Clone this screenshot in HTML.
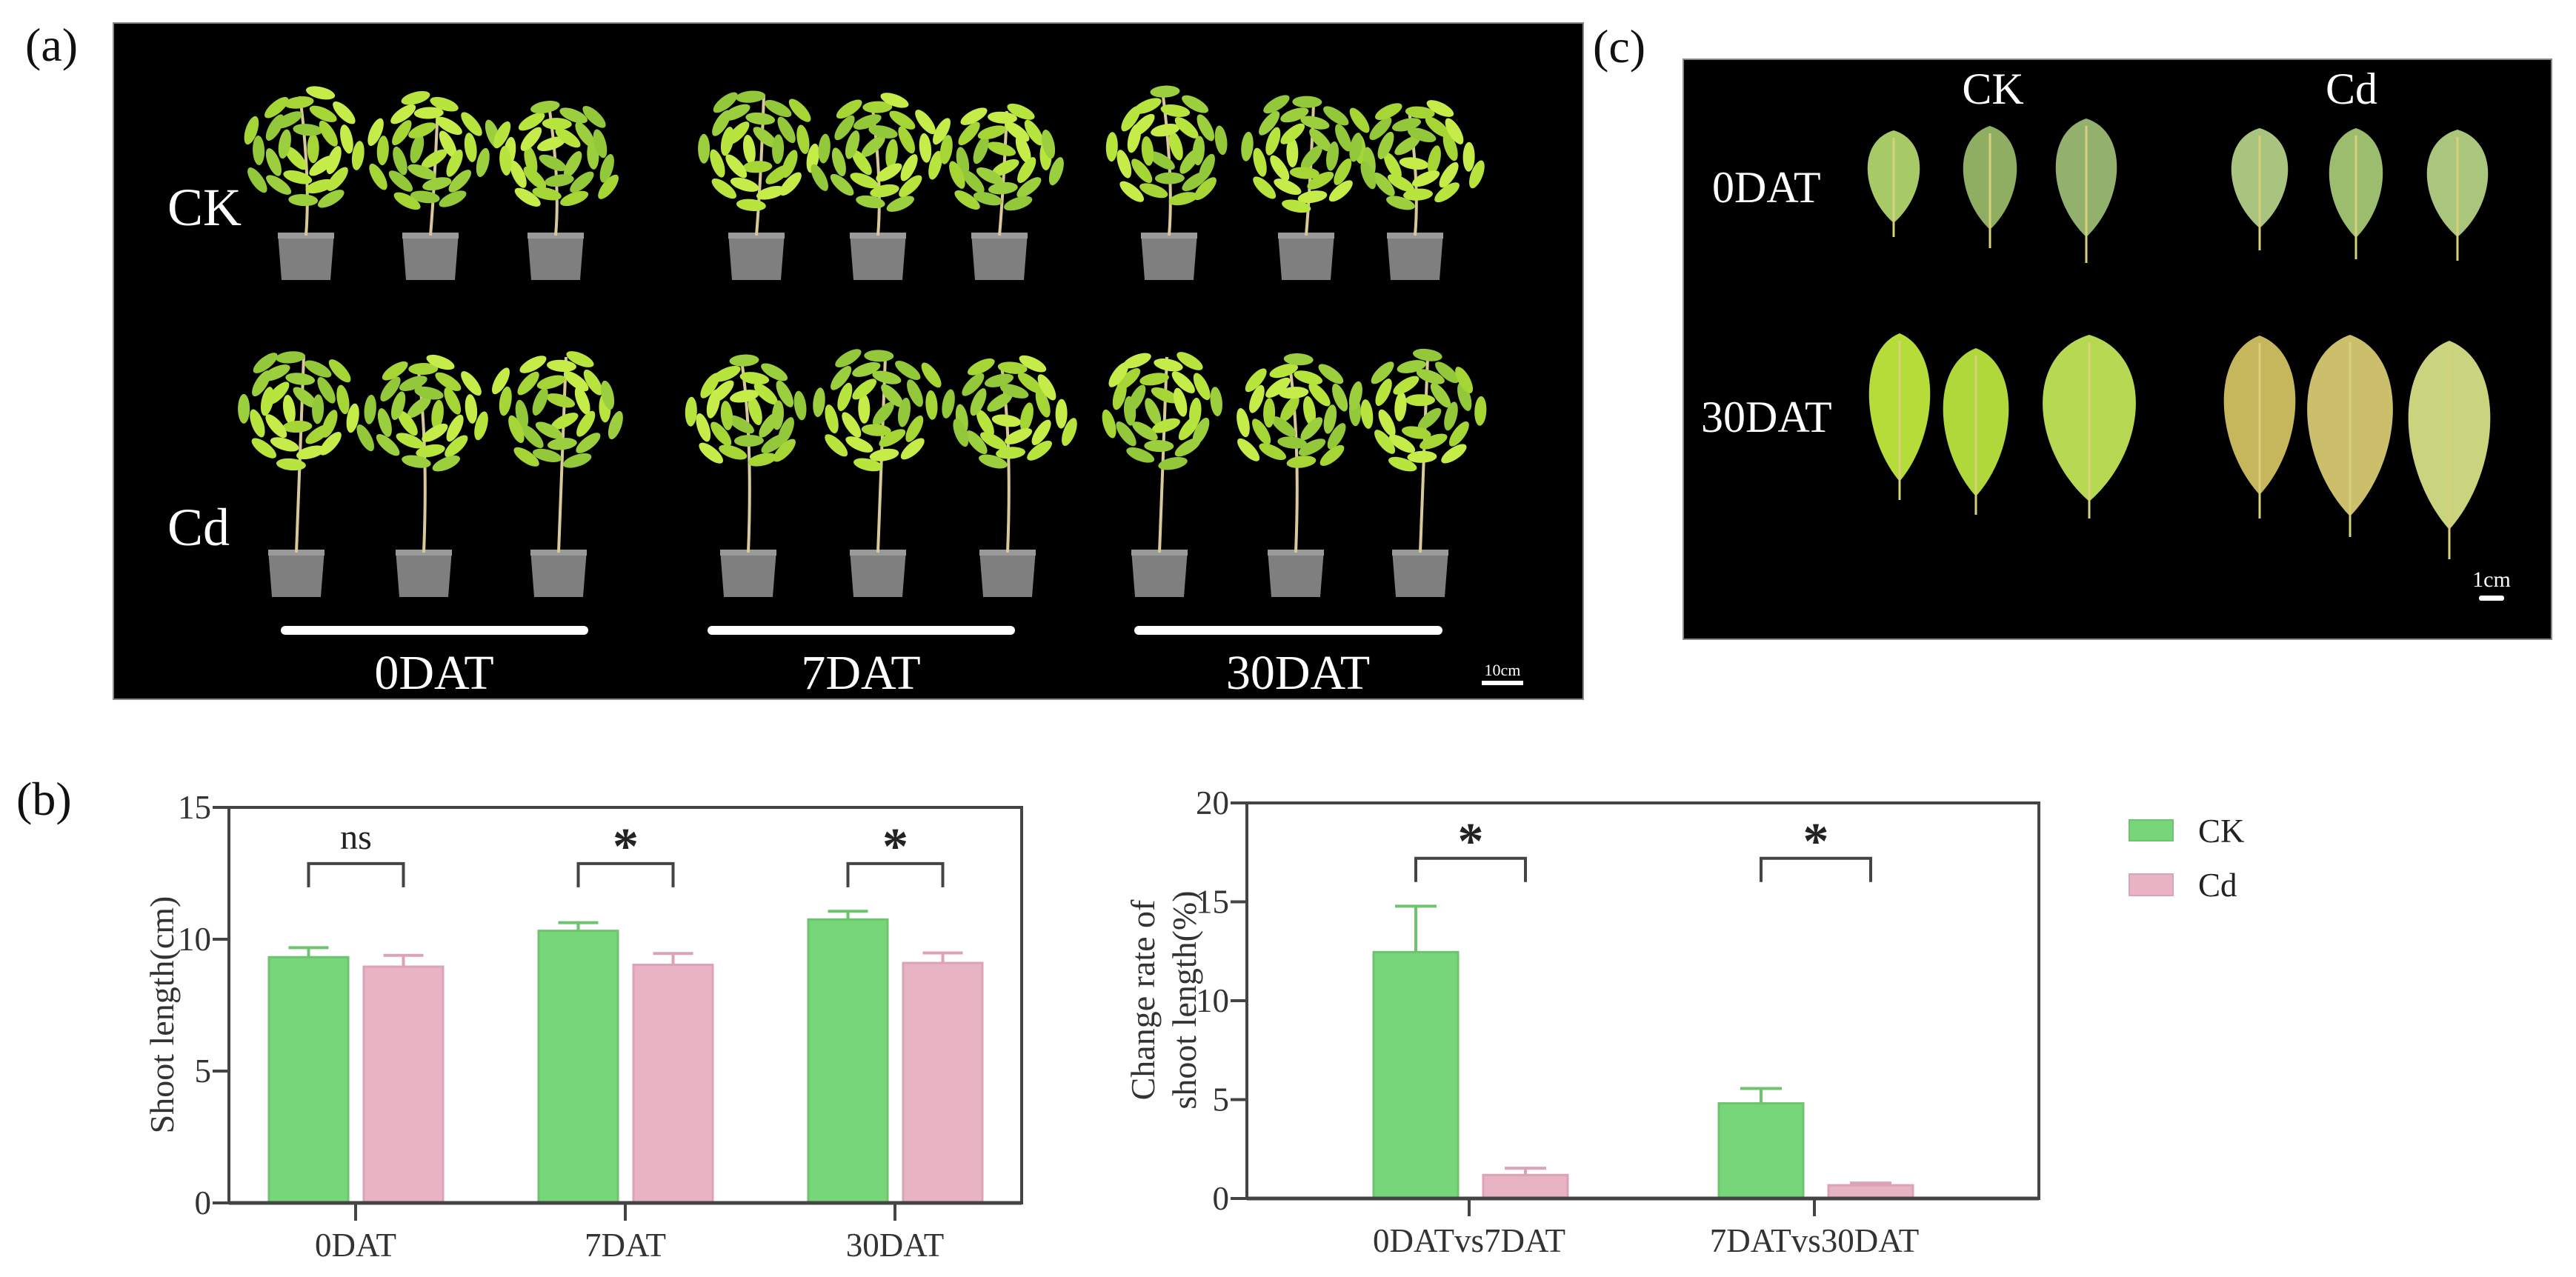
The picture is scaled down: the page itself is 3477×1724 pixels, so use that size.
<!DOCTYPE html>
<html><head><meta charset="utf-8">
<style>
html,body{margin:0;padding:0;background:#fff;}
svg{display:block;font-family:"Liberation Serif","DejaVu Serif",serif;}
svg text{font-family:"Liberation Serif","DejaVu Serif",serif;}
</style></head>
<body>
<svg id="fig" width="3477" height="1724" viewBox="0 0 3477 1724" xmlns="http://www.w3.org/2000/svg" font-family="Liberation Serif, DejaVu Serif, serif">
  <rect x="0" y="0" width="3477" height="1724" fill="#fff"/>
  <text x="34" y="82" font-size="64" fill="#111">(a)</text>
  <text x="22" y="1100" font-size="64" fill="#111">(b)</text>
  <text x="2150" y="84" font-size="64" fill="#111">(c)</text>

  <g id="panelA">
    <rect x="153" y="31" width="1984" height="913" fill="#000" stroke="#888" stroke-width="2"/>
    <g id="plants"></g>
    <text x="226" y="304" font-size="72" fill="#fff">CK</text>
    <text x="226" y="736" font-size="72" fill="#fff">Cd</text>
    <rect x="379" y="845" width="415" height="12" rx="6" fill="#fff"/>
    <rect x="955" y="845" width="415" height="12" rx="6" fill="#fff"/>
    <rect x="1531" y="845" width="416" height="12" rx="6" fill="#fff"/>
    <text x="586" y="930" font-size="66" fill="#fff" text-anchor="middle">0DAT</text>
    <text x="1162" y="930" font-size="66" fill="#fff" text-anchor="middle">7DAT</text>
    <text x="1752" y="930" font-size="66" fill="#fff" text-anchor="middle">30DAT</text>
    <text x="2028" y="912" font-size="22" fill="#fff" text-anchor="middle">10cm</text>
    <rect x="2000" y="919" width="56" height="6" fill="#fff"/>
  </g>

  <g id="panelC">
    <rect x="2272" y="80" width="1172" height="783" fill="#000" stroke="#888" stroke-width="2"/>
    <g id="leaves"></g>
    <text x="2690" y="140" font-size="60" fill="#fff" text-anchor="middle">CK</text>
    <text x="3174" y="140" font-size="60" fill="#fff" text-anchor="middle">Cd</text>
    <text x="2311" y="273" font-size="60" fill="#fff">0DAT</text>
    <text x="2296" y="583" font-size="60" fill="#fff">30DAT</text>
    <text x="3363" y="792" font-size="30" fill="#fff" text-anchor="middle">1cm</text>
    <rect x="3346" y="804" width="34" height="7" rx="3" fill="#fff"/>
  </g>

  <g id="chart1"></g>
  <g id="chart2"></g>

  <g>
    <rect x="2874" y="1107" width="59" height="28" fill="#78d67a" stroke="#6cc46e" stroke-width="2"/>
    <text x="2967" y="1137" font-size="45" fill="#222">CK</text>
    <rect x="2874" y="1180" width="59" height="29" fill="#e8b3c3" stroke="#dca2b6" stroke-width="2"/>
    <text x="2967" y="1210" font-size="45" fill="#222">Cd</text>
  </g>
</svg>
<script>
const cats1 = ['0DAT', '7DAT', '30DAT'];
const ck1 = [9.32, 10.32, 10.75];
const ckErr1 = [0.36, 0.31, 0.31];
const cd1 = [8.96, 9.03, 9.10];
const cdErr1 = [0.43, 0.43, 0.38];
const sig1 = ['ns', '*', '*'];
const ticks1 = [0, 5, 10, 15];

const cats2 = ['0DATvs7DAT', '7DATvs30DAT'];
const ck2 = [12.46, 4.81];
const ckErr2 = [2.32, 0.75];
const cd2 = [1.19, 0.67];
const cdErr2 = [0.34, 0.11];
const sig2 = ['*', '*'];
const ticks2 = [0, 5, 10, 15, 20];

const NS = 'http://www.w3.org/2000/svg';
const FONT = 'Liberation Serif, DejaVu Serif, serif';
function mk(tag, attrs, parent) {
  const e = document.createElementNS(NS, tag);
  for (const k in attrs) e.setAttribute(k, attrs[k]);
  if (tag === 'text') e.setAttribute('font-family', FONT);
  if (parent) parent.appendChild(e);
  return e;
}

function drawChart(g, cfg) {
  const {x0, x1, yB, yT, max, cats, ck, ckE, cd, cdE, sig, ticks, first, spacing, barW, ckOff, cdOff, brTop, brLeg, capW} = cfg;
  const y = v => yB - (v / max) * (yB - yT);
  const cx = i => x0 + first + i * spacing;
  const fr = mk('rect', {x: x0, y: yT, width: x1 - x0, height: yB - yT, fill: 'none', stroke: '#444', 'stroke-width': 4}, g);
  
  
  ticks.forEach(t => {
    const tl = mk('line', {x1: x0 - 22, x2: x0, y1: y(t), y2: y(t), stroke: '#444', 'stroke-width': 4}, g);
    
    
    const tx = mk('text', {x: x0 - 24, y: y(t) + 15, 'font-size': 45, fill: '#333', 'text-anchor': 'end'}, g);
    tx.textContent = t;
    
    
  });
  cats.forEach((c, i) => {
    const c0 = cx(i);
    const b1 = mk('rect', {x: c0 + ckOff, y: y(ck[i]), width: barW, height: yB - y(ck[i]), fill: '#78d67a', stroke: '#6cc46e', 'stroke-width': 3}, g);
    
    
    const b2 = mk('rect', {x: c0 + cdOff, y: y(cd[i]), width: barW, height: yB - y(cd[i]), fill: '#e8b3c3', stroke: '#dca2b6', 'stroke-width': 3}, g);
    
    
    [[c0 + ckOff + barW / 2, ck[i], ckE[i], '#6cc46e'], [c0 + cdOff + barW / 2, cd[i], cdE[i], '#dca2b6']].forEach(([ex, v, e, col]) => {
      const el = mk('path', {d: `M${ex},${y(v)}V${y(v + e)}M${ex - capW / 2},${y(v + e)}H${ex + capW / 2}`, stroke: col, 'stroke-width': 4, fill: 'none'}, g);
      
      
    });
    const xt = mk('line', {x1: c0, x2: c0, y1: yB, y2: yB + 24, stroke: '#444', 'stroke-width': 4}, g);
    
    
    const xl = mk('text', {x: c0, y: yB + 72, 'font-size': 45, fill: '#333', 'text-anchor': 'middle'}, g);
    xl.textContent = c;
    
    
    const bl = c0 + ckOff + barW / 2, br = c0 + cdOff + barW / 2;
    const bk = mk('path', {d: `M${bl},${y(brLeg)}V${y(brTop)}H${br}V${y(brLeg)}`, stroke: '#444', 'stroke-width': 4, fill: 'none'}, g);
    
    
    const st = mk('text', {x: (bl + br) / 2, y: y(brTop) - (sig[i] === '*' ? 0 : 20), 'font-size': sig[i] === '*' ? 70 : 48, 'font-weight': sig[i] === '*' ? 'bold' : 'normal', fill: '#222', 'text-anchor': 'middle'}, g);
    st.textContent = sig[i];
    
    
  });
  const ax = mk('line', {x1: x0, x2: x1, y1: yB, y2: yB, stroke: '#444', 'stroke-width': 5}, g);
  
  
}

drawChart(document.getElementById('chart1'), {
  x0: 309, x1: 1379, yB: 1624, yT: 1090, max: 15, cats: cats1, ck: ck1, ckE: ckErr1, cd: cd1, cdE: cdErr1, sig: sig1, ticks: ticks1,
  first: 171, spacing: 364, barW: 107, ckOff: -117, cdOff: 11, brTop: 12.87, brLeg: 11.97, capW: 54
});
drawChart(document.getElementById('chart2'), {
  x0: 1683, x1: 2752, yB: 1618, yT: 1084, max: 20, cats: cats2, ck: ck2, ckE: ckErr2, cd: cd2, cdE: cdErr2, sig: sig2, ticks: ticks2,
  first: 300, spacing: 466, barW: 114, ckOff: -129, cdOff: 19, brTop: 17.2, brLeg: 16.0, capW: 56
});

(function () {
  const g1 = document.getElementById('chart1');
  const t1 = mk('text', {x: 0, y: 0, 'font-size': 46, fill: '#333', 'text-anchor': 'middle', transform: 'translate(234,1370) rotate(-90)'}, g1);
  t1.textContent = 'Shoot length(cm)';
  
  
  const g2 = document.getElementById('chart2');
  const t2 = mk('text', {x: 0, y: 0, 'font-size': 46, fill: '#333', 'text-anchor': 'middle', transform: 'translate(1558,1350) rotate(-90)'}, g2);
  t2.textContent = 'Change rate of';
  
  
  const t3 = mk('text', {x: 0, y: 0, 'font-size': 46, fill: '#333', 'text-anchor': 'middle', transform: 'translate(1614,1350) rotate(-90)'}, g2);
  t3.textContent = 'shoot length(%)';
  
  
})();

(function () {
  const g = document.getElementById('plants');
  const ckStems = [413, 581, 750, 1021, 1185, 1349, 1578, 1763, 1910];
  const cdStems = [400, 572, 754, 1010, 1185, 1360, 1565, 1749, 1917];
  const leafCols = ['#a6d636', '#b8e43e', '#92c83a', '#c6ec4a', '#9ccf3e'];
  function plant(sx, potTop, crownTop, crownBot, k) {
    const pot = mk('path', {d: `M${sx - 38},${potTop} H${sx + 38} L${sx + 33},${potTop + 64} H${sx - 33} Z`, fill: '#7f7f7f'}, g);
    
    
    mk('rect', {x: sx - 38, y: potTop, width: 76, height: 8, fill: '#9a9a9a'}, g);
    const cyc = (crownTop + crownBot) / 2, ry = (crownBot - crownTop) / 2;
    const stem = mk('path', {d: `M${sx},${potTop + 4} Q${sx + 6},${cyc + ry * 0.4} ${sx + (k % 2 ? 10 : -8)},${crownTop + 20}`, stroke: '#d8c89a', 'stroke-width': 4, fill: 'none'}, g);
    
    
    for (let j = 0; j < 26; j++) {
      const a = j * 2.39996 + k;
      const r = Math.sqrt((j + 0.5) / 26);
      const lx = sx + Math.cos(a) * r * (70 + (j % 4) * 8);
      const ly = cyc + Math.sin(a) * r * ry * 0.85 - ry * 0.05;
      const lf = mk('ellipse', {cx: lx.toFixed(1), cy: ly.toFixed(1), rx: 20, ry: 8, fill: leafCols[(j + k) % 5], transform: `rotate(${((a * 57.3) % 180 - 90).toFixed(0)} ${lx.toFixed(1)} ${ly.toFixed(1)})`}, g);
      
      
    }
  }
  ckStems.forEach((sx, k) => plant(sx, 314, 110 + (k % 3) * 10, 300, k));
  cdStems.forEach((sx, k) => plant(sx, 742, 462 + (k % 2) * 12, 650, k + 3));
})();

(function () {
  const g = document.getElementById('leaves');
  const leaves = [
    [2556, 176, 70, 125, 320, '#a8ca66'], [2686, 170, 72, 140, 335, '#8fae62'], [2816, 160, 82, 160, 355, '#93b06c'],
    [3050, 173, 76, 135, 338, '#a9c47e'], [3180, 173, 72, 148, 350, '#9dbd6e'], [3317, 175, 82, 145, 352, '#aac67c'],
    [2564, 450, 82, 200, 675, '#b6dc3a'], [2667, 470, 88, 200, 695, '#b0d83a'], [2820, 452, 125, 225, 700, '#b6d852'],
    [3050, 453, 96, 215, 700, '#c6b65c'], [3172, 452, 115, 245, 725, '#ccbf6c'], [3306, 460, 110, 255, 755, '#cad47e']
  ];
  leaves.forEach(([cx, yt, w, h, pe, col]) => {
    const yb = yt + h;
    const p = mk('path', {d: `M${cx},${yt} C${cx + w * 0.72},${yt + h * 0.12} ${cx + w * 0.62},${yt + h * 0.7} ${cx},${yb} C${cx - w * 0.62},${yt + h * 0.7} ${cx - w * 0.72},${yt + h * 0.12} ${cx},${yt} Z`, fill: col}, g);
    
    
    mk('line', {x1: cx, y1: yt + 10, x2: cx, y2: pe, stroke: '#d8d07a', 'stroke-width': 3}, g);
  });
})();
</script>
</body></html>
